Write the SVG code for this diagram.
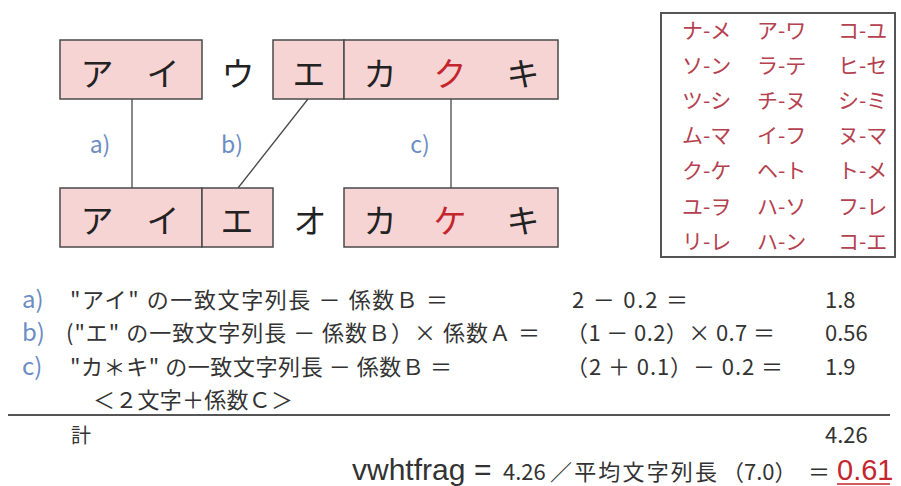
<svg xmlns="http://www.w3.org/2000/svg" width="901" height="486" viewBox="0 0 901 486">
<style>
.box{fill:#f7d4d4;stroke:#4a4a4a;stroke-width:1.5}
.k{font-family:"Noto Sans CJK JP",sans-serif;font-size:33px;fill:#222;text-anchor:middle;dominant-baseline:central}
.red{fill:#c4262e}
.lbl{font-family:"Noto Sans CJK JP",sans-serif;font-size:23px;fill:#6b8cc4;text-anchor:middle;dominant-baseline:central}
.conn{stroke:#4a4a4a;stroke-width:1.3;fill:none}
.pair{font-family:"Noto Sans CJK JP",sans-serif;font-size:21px;fill:#b5404f;dominant-baseline:central}
.f{font-family:"Noto Sans CJK JP",sans-serif;font-size:22px;fill:#333}
.fl{font-family:"Noto Sans CJK JP",sans-serif;font-size:24px;fill:#6b8cc4}
</style>
<rect width="901" height="486" fill="#fff"/>

<g id="connectors">
<line class="conn" x1="132" y1="99" x2="132" y2="188"/>
<line class="conn" x1="308" y1="99" x2="238" y2="188"/>
<line class="conn" x1="451" y1="99" x2="451" y2="188"/>
</g>

<g id="top-ai">
<rect class="box" x="60" y="40" width="142" height="59"/>
<text class="k" x="97" y="72">ア</text>
<text class="k" x="163" y="72">イ</text>
</g>
<g id="top-u"><text class="k" x="238" y="72">ウ</text></g>
<g id="top-e">
<rect class="box" x="273" y="40" width="71" height="59"/>
<text class="k" x="309" y="72">エ</text>
</g>
<g id="top-kakuki">
<rect class="box" x="344" y="40" width="214" height="59"/>
<text class="k" x="380" y="72">カ</text>
<text class="k red" x="450" y="72">ク</text>
<text class="k" x="523" y="72">キ</text>
</g>

<g id="bot-ai">
<rect class="box" x="60" y="188" width="142" height="59"/>
<text class="k" x="97" y="219">ア</text>
<text class="k" x="163" y="219">イ</text>
</g>
<g id="bot-e">
<rect class="box" x="202" y="188" width="71" height="59"/>
<text class="k" x="237" y="219">エ</text>
</g>
<g id="bot-o"><text class="k" x="310" y="219">オ</text></g>
<g id="bot-kakeki">
<rect class="box" x="344" y="188" width="214" height="59"/>
<text class="k" x="380" y="219">カ</text>
<text class="k red" x="450" y="219">ケ</text>
<text class="k" x="523" y="219">キ</text>
</g>

<g id="labels">
<text class="lbl" x="100" y="143">a)</text>
<text class="lbl" x="232" y="143">b)</text>
<text class="lbl" x="420" y="143">c)</text>
</g>

<g id="pairs">
<rect x="661" y="13" width="234" height="244" fill="#fff" stroke="#555" stroke-width="2"/>
<text class="pair" x="682" y="29">ナ-メ</text><text class="pair" x="757" y="29">ア-ワ</text><text class="pair" x="838" y="29">コ-ユ</text>
<text class="pair" x="682" y="64">ソ-ン</text><text class="pair" x="757" y="64">ラ-テ</text><text class="pair" x="838" y="64">ヒ-セ</text>
<text class="pair" x="682" y="99">ツ-シ</text><text class="pair" x="757" y="99">チ-ヌ</text><text class="pair" x="838" y="99">シ-ミ</text>
<text class="pair" x="682" y="134">ム-マ</text><text class="pair" x="757" y="134">イ-フ</text><text class="pair" x="838" y="134">ヌ-マ</text>
<text class="pair" x="682" y="169">ク-ケ</text><text class="pair" x="757" y="169">ヘ-ト</text><text class="pair" x="838" y="169">ト-メ</text>
<text class="pair" x="682" y="205">ユ-ヲ</text><text class="pair" x="757" y="205">ハ-ソ</text><text class="pair" x="838" y="205">フ-レ</text>
<text class="pair" x="682" y="240">リ-レ</text><text class="pair" x="757" y="240">ハ-ン</text><text class="pair" x="838" y="240">コ-エ</text>
</g>

<g id="formulas">
<text class="fl" x="22" y="308">a)</text>
<text class="f" x="70" y="308" textLength="378">"アイ" の一致文字列長 － 係数Ｂ ＝</text>
<text class="f" x="572" y="308" textLength="116">2 － 0.2 ＝</text>
<text class="f" x="825" y="308">1.8</text>

<text class="fl" x="22" y="341">b)</text>
<text class="f" x="66" y="341" textLength="474">("エ" の一致文字列長 － 係数Ｂ）× 係数Ａ ＝</text>
<text class="f" x="566" y="341" textLength="209">（1 － 0.2）× 0.7 ＝</text>
<text class="f" x="825" y="341">0.56</text>

<text class="fl" x="22" y="375">c)</text>
<text class="f" x="70" y="375" textLength="382">"カ＊キ" の一致文字列長 － 係数Ｂ ＝</text>
<text class="f" x="566" y="375" textLength="217">（2 ＋ 0.1）－ 0.2 ＝</text>
<text class="f" x="825" y="375">1.9</text>

<text class="f" x="93" y="408" textLength="200">＜２文字＋係数Ｃ＞</text>

<line x1="8" y1="415" x2="890" y2="415" stroke="#555" stroke-width="2"/>

<text class="f" x="71" y="443" style="font-size:20px">計</text>
<text class="f" x="825" y="443">4.26</text>

<text x="352" y="480" style="font-family:'Liberation Sans',sans-serif;font-size:30px;fill:#333">vwhtfrag</text>
<text x="474" y="480" style="font-family:'Liberation Sans',sans-serif;font-size:30px;fill:#333">=</text>
<text class="f" x="503" y="480">4.26</text>
<text class="f" x="550" y="480" textLength="167">／平均文字列長</text>
<text class="f" x="722" y="480">（7.0）</text>
<text class="f" x="808" y="480">＝</text>
<text x="837" y="480" style="font-family:'Liberation Sans',sans-serif;font-size:29px;fill:#c4262e">0.61</text>
<line x1="837" y1="484" x2="890" y2="484" stroke="#c4262e" stroke-width="1.5"/>
</g>
</svg>
